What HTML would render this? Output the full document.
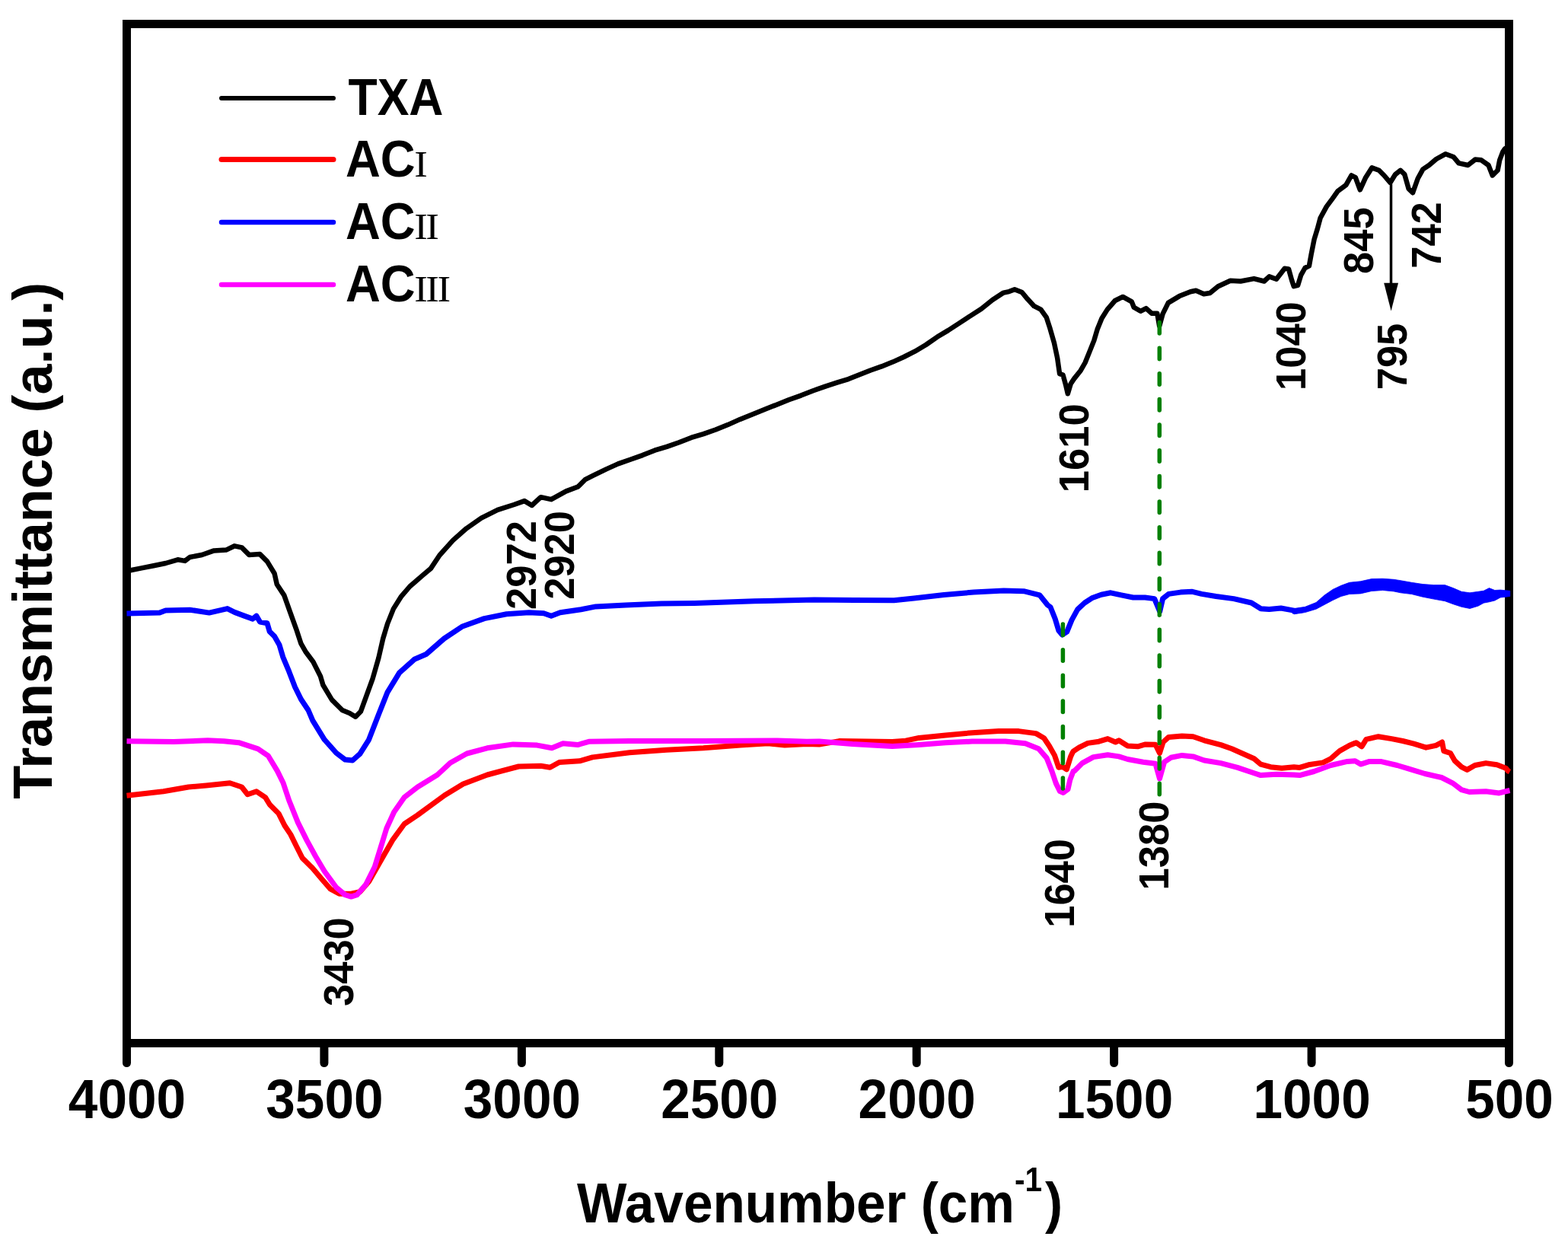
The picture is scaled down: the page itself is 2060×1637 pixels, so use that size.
<!DOCTYPE html><html><head><meta charset="utf-8"><title>FTIR spectra</title><style>html,body{margin:0;padding:0;background:#fff;}svg{display:block;}text{font-family:"Liberation Sans",Arial,sans-serif;font-weight:bold;fill:#000;}</style></head><body>
<svg width="2060" height="1637" viewBox="0 0 2060 1637">
<rect width="2060" height="1637" fill="#fff"/>
<rect x="166.5" y="31.5" width="1816" height="1339" fill="none" stroke="#000" stroke-width="11" stroke-linejoin="miter"/>
<path d="M166.5,1370.5 L166.5,1396.5" stroke="#000" stroke-width="11" stroke-linecap="round"/>
<path d="M425.9,1370.5 L425.9,1396.5" stroke="#000" stroke-width="11" stroke-linecap="round"/>
<path d="M685.4,1370.5 L685.4,1396.5" stroke="#000" stroke-width="11" stroke-linecap="round"/>
<path d="M944.8,1370.5 L944.8,1396.5" stroke="#000" stroke-width="11" stroke-linecap="round"/>
<path d="M1204.2,1370.5 L1204.2,1396.5" stroke="#000" stroke-width="11" stroke-linecap="round"/>
<path d="M1463.6,1370.5 L1463.6,1396.5" stroke="#000" stroke-width="11" stroke-linecap="round"/>
<path d="M1723.1,1370.5 L1723.1,1396.5" stroke="#000" stroke-width="11" stroke-linecap="round"/>
<path d="M1982.5,1370.5 L1982.5,1396.5" stroke="#000" stroke-width="11" stroke-linecap="round"/>
<g fill="none" stroke-width="7" stroke-linejoin="round" stroke-linecap="butt">
<path stroke="#000" stroke-width="6.5" d="M166.5,750.2 L185.9,746.4 L201.8,743.2 L217.6,740.0 L233.5,735.3 L243.0,736.9 L249.4,732.0 L265.3,729.0 L281.2,723.4 L297.0,722.6 L308.2,717.3 L317.7,719.4 L327.2,728.9 L341.5,728.1 L351.0,737.6 L360.6,753.5 L363.8,767.8 L373.3,782.1 L381.2,804.4 L389.2,826.6 L395.5,845.7 L401.9,856.8 L411.4,869.5 L421.0,888.5 L424.4,900.0 L436.0,919.4 L449.6,933.0 L459.3,936.9 L467.1,941.7 L473.9,934.8 L481.7,913.3 L489.6,891.7 L497.4,864.4 L503.2,839.0 L509.1,819.4 L516.9,799.9 L526.7,784.2 L538.4,770.5 L554.1,756.9 L565.8,747.1 L577.5,729.5 L595.1,709.9 L612.7,694.3 L632.3,680.6 L653.8,669.9 L675.3,663.0 L689.0,658.1 L698.7,664.0 L710.5,653.2 L724.2,656.2 L743.7,645.4 L759.3,639.5 L769.1,629.8 L780.0,624.3 L796.0,616.6 L812.0,609.4 L828.1,603.7 L844.1,598.1 L860.1,591.7 L876.1,586.9 L892.1,581.3 L908.2,574.9 L924.2,570.1 L940.2,564.5 L956.2,558.1 L972.2,550.9 L988.3,544.5 L1004.3,538.1 L1020.3,531.7 L1036.3,525.2 L1052.3,519.6 L1068.4,513.2 L1084.4,507.6 L1100.4,502.4 L1114.6,498.1 L1129.1,492.3 L1143.7,486.5 L1158.2,481.4 L1172.8,475.6 L1187.4,469.0 L1201.9,461.7 L1216.5,453.0 L1231.1,442.8 L1245.6,434.1 L1260.2,424.6 L1274.7,415.1 L1289.3,405.7 L1303.9,394.0 L1318.4,384.6 L1325.7,383.1 L1333.0,380.2 L1342.6,384.0 L1349.9,392.8 L1358.6,402.2 L1367.4,406.6 L1374.7,416.8 L1379.0,429.9 L1384.9,450.3 L1389.2,470.7 L1392.1,491.1 L1396.5,492.5 L1400.1,505.6 L1402.8,517.3 L1406.7,504.2 L1411.1,497.6 L1419.8,486.7 L1425.6,476.5 L1431.5,461.9 L1437.3,447.4 L1441.6,432.8 L1447.5,418.3 L1454.8,406.6 L1464.9,395.0 L1475.1,389.9 L1486.8,396.4 L1489.7,403.7 L1498.4,408.8 L1505.7,405.1 L1513.0,411.7 L1520.3,411.7 L1523.2,428.4 L1527.6,412.4 L1534.8,397.9 L1549.4,389.1 L1564.0,383.3 L1571.2,381.8 L1581.5,386.3 L1589.6,385.0 L1600.3,376.2 L1616.4,368.8 L1629.9,369.5 L1647.4,366.1 L1660.8,369.5 L1667.5,363.4 L1676.9,366.8 L1687.7,352.7 L1693.0,353.4 L1697.1,368.1 L1699.8,376.2 L1705.1,374.9 L1709.2,361.4 L1714.5,352.0 L1719.9,349.3 L1722.6,334.5 L1726.6,314.4 L1730.7,301.0 L1734.7,286.2 L1742.8,271.4 L1750.8,260.6 L1757.5,251.2 L1768.3,243.2 L1775.4,230.5 L1780.8,233.2 L1786.8,249.3 L1794.2,233.2 L1802.3,220.4 L1811.7,223.8 L1818.4,230.5 L1826.4,239.9 L1833.2,229.1 L1839.9,223.8 L1845.3,229.1 L1850.6,247.9 L1856.0,253.3 L1862.7,234.5 L1869.4,222.4 L1877.5,217.0 L1886.9,209.0 L1899.0,202.3 L1909.8,206.3 L1916.5,214.3 L1928.6,217.0 L1938.0,209.6 L1946.1,210.3 L1955.5,217.0 L1960.8,230.5 L1967.6,223.8 L1970.2,210.3 L1974.3,199.6 L1977.0,195.5 L1982.5,192.0"/>
<path stroke="#f00" d="M166.5,1045.2 L214.7,1039.8 L247.7,1034.0 L271.0,1032.0 L302.0,1028.7 L317.6,1034.0 L325.3,1043.7 L337.0,1039.8 L348.6,1047.6 L354.5,1057.3 L366.1,1068.9 L373.9,1084.5 L381.7,1096.1 L389.4,1111.7 L397.2,1127.2 L410.8,1140.8 L422.4,1154.4 L434.1,1168.0 L445.7,1174.2 L461.3,1174.2 L472.9,1171.8 L484.6,1158.3 L500.1,1131.1 L515.6,1103.9 L531.2,1082.5 L548.6,1070.9 L584.3,1044.7 L608.5,1030.1 L640.1,1018.0 L681.4,1007.0 L710.5,1006.3 L722.6,1008.3 L734.8,1001.5 L761.5,999.8 L778.4,994.9 L827.0,988.8 L875.5,985.2 L924.1,982.8 L972.6,979.1 L1009.0,976.7 L1030.9,979.1 L1060.0,977.4 L1076.2,978.1 L1102.4,973.6 L1137.4,974.1 L1172.3,974.6 L1189.8,973.2 L1207.3,969.4 L1242.2,965.9 L1277.2,962.7 L1312.1,960.6 L1338.4,960.6 L1361.1,963.6 L1371.6,969.7 L1378.6,980.2 L1385.5,992.4 L1390.8,1008.2 L1396.0,1007.3 L1401.3,1010.8 L1404.4,1001.2 L1406.5,994.2 L1408.7,989.5 L1410.0,987.2 L1417.5,982.2 L1429.1,976.4 L1443.7,974.2 L1455.3,970.6 L1465.5,975.0 L1469.9,972.8 L1481.5,980.0 L1494.7,980.8 L1504.9,977.9 L1518.0,978.2 L1523.5,989.5 L1528.1,975.0 L1535.4,968.4 L1552.9,966.9 L1567.5,967.7 L1582.0,972.8 L1603.9,978.6 L1618.4,983.7 L1633.0,990.2 L1647.6,996.8 L1656.3,1004.1 L1669.4,1007.7 L1684.0,1009.2 L1700.0,1007.7 L1707.5,1008.4 L1719.1,1004.8 L1738.1,1001.9 L1748.2,996.8 L1759.9,986.6 L1773.0,979.3 L1781.7,975.7 L1789.0,980.8 L1794.9,971.3 L1810.9,967.7 L1828.3,970.6 L1842.9,973.5 L1857.5,977.1 L1873.5,982.2 L1886.6,979.3 L1894.6,975.0 L1896.8,986.6 L1905.5,989.5 L1911.4,999.7 L1920.1,1007.7 L1927.4,1011.4 L1937.6,1005.5 L1952.1,1002.6 L1966.7,1004.8 L1978.3,1009.2 L1981.2,1012.8 L1983.5,1014.0"/>
<path stroke="#00f" d="M166.5,806.0 L209.7,805.1 L217.6,802.0 L249.4,801.2 L274.8,805.1 L298.7,799.6 L308.2,804.4 L320.9,809.1 L332.0,813.1 L336.8,809.1 L341.5,817.1 L351.0,818.7 L354.2,829.8 L360.6,836.1 L367.0,847.2 L371.7,863.1 L379.7,882.2 L387.6,902.8 L395.5,918.7 L405.0,933.0 L410.8,946.6 L426.3,971.8 L441.8,989.3 L453.5,998.1 L463.2,999.0 L472.9,990.3 L484.6,971.8 L497.4,938.7 L509.1,909.3 L524.7,883.9 L544.3,866.3 L559.9,859.5 L583.4,839.0 L606.9,823.3 L636.2,812.6 L665.5,806.7 L694.8,804.8 L714.4,805.7 L724.2,809.2 L735.9,804.8 L763.3,800.8 L782.8,796.9 L821.9,795.0 L868.8,793.0 L912.4,792.4 L991.1,789.8 L1069.7,788.0 L1122.1,788.5 L1174.5,788.8 L1200.8,785.9 L1240.1,781.4 L1279.4,778.0 L1318.7,775.9 L1344.9,776.7 L1365.9,781.9 L1376.4,795.0 L1380.0,797.5 L1386.2,813.0 L1390.9,828.5 L1395.5,834.0 L1401.7,830.1 L1408.0,814.6 L1415.7,800.6 L1425.0,792.0 L1434.4,785.8 L1446.8,781.2 L1459.2,778.8 L1473.2,781.9 L1488.7,785.0 L1504.3,785.0 L1516.7,786.6 L1523.7,803.5 L1527.6,786.6 L1535.3,780.4 L1550.9,778.1 L1566.4,777.3 L1578.8,780.4 L1597.5,783.5 L1620.8,786.6 L1644.1,792.0 L1656.5,799.8 L1667.4,800.6 L1682.9,799.0 L1700.0,802.1 L1700.0,803.2 L1712.0,801.5"/>
</g>
<path fill="#00f" stroke="#00f" stroke-width="0.8" stroke-linejoin="round" d="M1700.0,799.5 L1714.6,797.3 L1729.1,791.5 L1740.0,782.0 L1751.0,774.4 L1761.9,769.3 L1772.8,765.3 L1787.4,763.8 L1801.9,760.6 L1816.5,760.2 L1831.1,761.3 L1840.0,762.7 L1854.6,765.3 L1869.1,767.5 L1883.7,768.6 L1898.3,768.6 L1909.2,772.6 L1920.1,777.3 L1931.0,778.8 L1941.9,777.3 L1949.2,776.2 L1956.5,772.6 L1963.8,775.5 L1971.1,775.1 L1978.4,775.8 L1983.8,776.2 L1983.8,783.5 L1978.4,784.2 L1971.1,785.0 L1963.8,789.0 L1956.5,790.8 L1949.2,792.2 L1941.9,796.2 L1931.0,799.5 L1920.1,797.3 L1909.2,793.7 L1898.3,789.7 L1883.7,787.1 L1869.1,784.2 L1854.6,780.6 L1840.0,778.8 L1831.1,776.9 L1816.5,775.5 L1801.9,776.6 L1787.4,779.9 L1772.8,780.6 L1761.9,783.5 L1751.0,788.6 L1740.0,794.4 L1729.1,800.2 L1714.6,804.6 L1700.0,806.8 Z"/>
<path fill="none" stroke="#f0f" stroke-width="7" stroke-linejoin="round" stroke-linecap="butt" d="M166.5,973.8 L228.3,974.4 L272.9,972.8 L294.3,973.8 L313.7,975.7 L338.9,983.9 L352.5,993.2 L364.2,1012.6 L371.9,1028.2 L379.7,1051.5 L391.4,1080.6 L403.0,1103.9 L414.7,1125.2 L426.3,1144.7 L441.8,1166.0 L453.5,1175.7 L461.3,1178.1 L469.0,1175.7 L480.7,1162.1 L492.3,1138.8 L500.1,1113.6 L507.9,1088.3 L517.6,1067.0 L531.2,1047.6 L548.6,1034.0 L574.6,1018.0 L591.6,1002.2 L613.4,990.0 L640.1,982.8 L674.1,977.9 L705.6,979.1 L725.0,982.8 L739.6,976.7 L759.0,978.6 L773.6,974.3 L827.0,973.5 L924.1,973.5 L1021.2,973.1 L1060.0,974.3 L1076.2,974.1 L1119.9,977.6 L1172.3,980.5 L1207.3,978.4 L1242.2,975.8 L1277.2,974.1 L1320.9,974.1 L1347.1,976.7 L1364.6,983.7 L1375.1,995.9 L1382.0,1013.4 L1387.3,1029.1 L1392.5,1039.6 L1396.9,1041.4 L1403.0,1037.0 L1405.8,1024.5 L1410.0,1013.4 L1411.7,1012.8 L1421.8,1002.6 L1436.4,994.6 L1455.3,991.7 L1469.9,993.9 L1481.5,997.5 L1501.9,1001.2 L1518.0,1003.3 L1523.5,1023.0 L1529.6,1001.2 L1538.3,995.3 L1552.9,992.4 L1567.5,993.9 L1582.0,999.0 L1603.9,1002.6 L1625.7,1008.4 L1647.6,1015.7 L1656.3,1018.6 L1676.7,1017.2 L1700.0,1017.9 L1707.5,1018.6 L1726.4,1013.5 L1748.2,1005.5 L1770.1,1000.4 L1780.3,999.7 L1787.6,1004.1 L1799.2,1000.4 L1813.8,1000.4 L1835.6,1005.5 L1850.2,1009.9 L1872.0,1016.5 L1893.9,1021.5 L1908.4,1028.8 L1920.1,1037.6 L1930.3,1040.5 L1952.1,1039.8 L1969.6,1041.9 L1981.2,1039.0 L1983.5,1038.5"/>
<g stroke="#008000" stroke-width="5.5" stroke-linecap="round" stroke-dasharray="14.5 19.15" fill="none">
<path d="M1523.3,423.5 L1523.3,1046"/>
<path d="M1396.4,820.0 L1396.4,1036"/>
</g>
<path d="M1827.5,242 L1827.5,375" stroke="#000" stroke-width="3.5" fill="none"/>
<path d="M1818.2,371.7 L1837,371.7 L1827.6,408.5 Z" fill="#000"/>
<text transform="translate(167.0,1469) scale(0.95,1)" text-anchor="middle" font-size="73">4000</text>
<text transform="translate(426.4,1469) scale(0.95,1)" text-anchor="middle" font-size="73">3500</text>
<text transform="translate(685.9,1469) scale(0.95,1)" text-anchor="middle" font-size="73">3000</text>
<text transform="translate(945.3,1469) scale(0.95,1)" text-anchor="middle" font-size="73">2500</text>
<text transform="translate(1204.7,1469) scale(0.95,1)" text-anchor="middle" font-size="73">2000</text>
<text transform="translate(1464.1,1469) scale(0.95,1)" text-anchor="middle" font-size="73">1500</text>
<text transform="translate(1723.6,1469) scale(0.95,1)" text-anchor="middle" font-size="73">1000</text>
<text transform="translate(1983.0,1469) scale(0.95,1)" text-anchor="middle" font-size="73">500</text>
<text transform="translate(758,1605.6) scale(0.924,1)" font-size="75">Wavenumber (cm<tspan font-size="44" dy="-41">-1</tspan><tspan dx="4.3" dy="41">)</tspan></text>
<text transform="translate(68,1049.8) rotate(-90) scale(0.985,1)" font-size="73">Transmittance (a.u.)</text>
<path d="M291,129.0 L438,129.0" stroke="#000" stroke-width="6" stroke-linecap="round"/>
<text transform="translate(457.5,151.0) scale(0.906,1)" font-size="69">TXA</text>
<path d="M291,209.5 L438,209.5" stroke="#f00" stroke-width="7" stroke-linecap="round"/>
<text transform="translate(454,231.7) scale(0.92,1)" font-size="69">AC</text>
<text transform="translate(544.3,231.7) scale(1.1,1)" font-family="Liberation Serif" font-weight="normal" font-size="48" letter-spacing="-2.3" style="font-family:'Liberation Serif',serif;font-weight:normal">I</text>
<path d="M291,292.0 L438,292.0" stroke="#00f" stroke-width="6.5" stroke-linecap="round"/>
<text transform="translate(454,313.7) scale(0.92,1)" font-size="69">AC</text>
<text transform="translate(544.3,313.7) scale(1.1,1)" font-family="Liberation Serif" font-weight="normal" font-size="48" letter-spacing="-2.3" style="font-family:'Liberation Serif',serif;font-weight:normal">II</text>
<path d="M291,374.0 L438,374.0" stroke="#f0f" stroke-width="6.5" stroke-linecap="round"/>
<text transform="translate(454,396.0) scale(0.92,1)" font-size="69">AC</text>
<text transform="translate(544.3,396.0) scale(1.1,1)" font-family="Liberation Serif" font-weight="normal" font-size="48" letter-spacing="-2.3" style="font-family:'Liberation Serif',serif;font-weight:normal">III</text>
<text transform="translate(464.0,1322.0) rotate(-90) scale(0.955,1)" font-size="55">3430</text>
<text transform="translate(703.6,800.9) rotate(-90) scale(0.955,1)" font-size="55">2972</text>
<text transform="translate(753.5,787.8) rotate(-90) scale(0.955,1)" font-size="55">2920</text>
<text transform="translate(1430.1,647.2) rotate(-90) scale(0.955,1)" font-size="55">1610</text>
<text transform="translate(1411.0,1218.8) rotate(-90) scale(0.955,1)" font-size="55">1640</text>
<text transform="translate(1535.0,1169.4) rotate(-90) scale(0.955,1)" font-size="55">1380</text>
<text transform="translate(1715.0,513.0) rotate(-90) scale(0.955,1)" font-size="55">1040</text>
<text transform="translate(1803.7,360.0) rotate(-90) scale(0.955,1)" font-size="55">845</text>
<text transform="translate(1847.8,512.3) rotate(-90) scale(0.955,1)" font-size="55">795</text>
<text transform="translate(1893.0,352.8) rotate(-90) scale(0.955,1)" font-size="55">742</text>
</svg></body></html>
